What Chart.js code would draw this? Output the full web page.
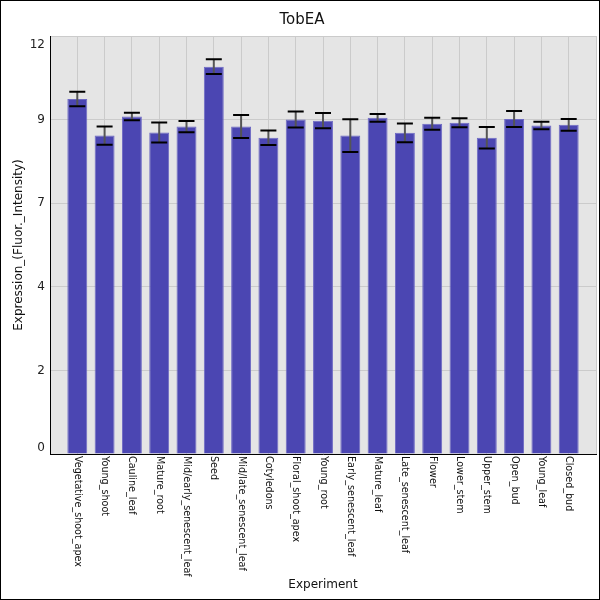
<!DOCTYPE html>
<html lang="en">

<head>
    <meta charset="UTF-8">
    <title>TobEA</title>
    <script src="https://cdn.jsdelivr.net/npm/chart.js"></script>
    <style>
        body { margin: 0; background: #fff; }
        #wrap { width: 600px; height: 600px; }
    </style>
</head>

<body>
    <div id="wrap">
        <canvas id="tobChart" width="600" height="600"></canvas>
    </div>

    <script>
        // data
        const experiments = [
            'Vegetative_shoot_apex', 'Young_shoot', 'Cauline_leaf', 'Mature_root',
            'Mid/early_senescent_leaf', 'Seed', 'Mid/late_senescent_leaf', 'Cotyledons',
            'Floral_shoot_apex', 'Young_root', 'Early_senescent_leaf', 'Mature_leaf',
            'Late_senescent_leaf', 'Flower', 'Lower_stem', 'Upper_stem', 'Open_bud',
            'Young_leaf', 'Closed_bud'
        ];
        const expression = [10.19, 9.14, 9.69, 9.23, 9.40, 11.12, 9.40, 9.08, 9.60, 9.57,
            9.14, 9.65, 9.22, 9.48, 9.51, 9.08, 9.62, 9.43, 9.45];
        const errors = [0.21, 0.26, 0.11, 0.29, 0.16, 0.21, 0.33, 0.21, 0.23, 0.22,
            0.47, 0.11, 0.27, 0.17, 0.13, 0.31, 0.23, 0.11, 0.17];
        const yTickValues = [0, 2.4, 4.8, 7.2, 9.6, 12];
        const yTickLabels = ['0', '2', '4', '7', '9', '12'];

        const textFont = 'DejaVu Sans';

        // grey plot background + outer frame
        const backgroundPlugin = {
            id: 'plotBackground',
            beforeDraw(chart) {
                const { ctx, chartArea } = chart;
                ctx.save();
                ctx.fillStyle = '#e5e5e5';
                ctx.fillRect(chartArea.left, chartArea.top, chartArea.right - chartArea.left, chartArea.bottom - chartArea.top);
                ctx.restore();
            },
            afterDraw(chart) {
                const ctx = chart.ctx;
                ctx.save();
                ctx.strokeStyle = '#000';
                ctx.lineWidth = 1;
                ctx.strokeRect(0.5, 0.5, chart.width - 1, chart.height - 1);
                ctx.restore();
            }
        };

        // error bars drawn on top of the bars
        const errorBarPlugin = {
            id: 'errorBars',
            afterDatasetsDraw(chart) {
                const { ctx, scales } = chart;
                const xs = scales.x, ys = scales.y;
                ctx.save();
                expression.forEach((v, i) => {
                    const x = xs.getPixelForValue(i + 1);
                    const yHi = ys.getPixelForValue(v + errors[i]);
                    const yLo = ys.getPixelForValue(v - errors[i]);
                    ctx.strokeStyle = '#555';
                    ctx.lineWidth = 2;
                    ctx.beginPath();
                    ctx.moveTo(x, yHi);
                    ctx.lineTo(x, yLo);
                    ctx.stroke();
                    ctx.strokeStyle = '#000';
                    ctx.beginPath();
                    ctx.moveTo(x - 8, yHi);
                    ctx.lineTo(x + 8, yHi);
                    ctx.moveTo(x - 8, yLo);
                    ctx.lineTo(x + 8, yLo);
                    ctx.stroke();
                });
                ctx.restore();
            }
        };

        // axis labels: category names rotated clockwise, y labels kept inside the plot height
        const axisLabelPlugin = {
            id: 'axisLabels',
            afterDraw(chart) {
                const { ctx, scales, chartArea } = chart;
                ctx.save();
                ctx.fillStyle = '#111';
                ctx.font = '9.6px "' + textFont + '"';
                ctx.textAlign = 'left';
                ctx.textBaseline = 'middle';
                experiments.forEach((name, i) => {
                    const x = scales.x.getPixelForValue(i + 1);
                    ctx.save();
                    ctx.translate(x, chartArea.bottom + 2);
                    ctx.rotate(Math.PI / 2);
                    ctx.fillText(name, 0, 0);
                    ctx.restore();
                });

                ctx.fillStyle = '#222';
                ctx.font = '12px "' + textFont + '"';
                ctx.textAlign = 'right';
                yTickValues.forEach((v, i) => {
                    let y = scales.y.getPixelForValue(v);
                    y = Math.min(Math.max(y, chartArea.top + 9), chartArea.bottom - 6);
                    ctx.fillText(yTickLabels[i], chartArea.left - 5, y);
                });
                ctx.restore();
            }
        };

        const ctx = document.getElementById('tobChart').getContext('2d');
        new Chart(ctx, {
            type: 'bar',
            data: {
                datasets: [{
                    label: 'TobEA',
                    data: expression.map((v, i) => ({ x: i + 1, y: v })),
                    backgroundColor: '#4b46b2',
                    borderColor: '#6e6ac4',
                    borderWidth: 1,
                    borderSkipped: 'bottom',
                    barPercentage: 0.73,
                    categoryPercentage: 1.0
                }]
            },
            options: {
                responsive: false,
                animation: false,
                layout: { padding: { left: 8, right: 4, top: 0, bottom: 4 } },
                plugins: {
                    legend: { display: false },
                    tooltip: { enabled: false },
                    title: {
                        display: true,
                        text: 'TobEA',
                        color: '#111',
                        font: { family: textFont, size: 15, weight: 'normal' },
                        padding: { top: 11, bottom: 7 }
                    }
                },
                scales: {
                    x: {
                        type: 'linear',
                        offset: false,
                        min: 0,
                        max: experiments.length + 1,
                        ticks: { display: false, stepSize: 1 },
                        grid: { color: '#cbcbcb', drawTicks: false, offset: false },
                        border: { display: true, color: '#000', width: 1 },
                        title: {
                            display: true,
                            text: 'Experiment',
                            color: '#111',
                            font: { family: textFont, size: 12 }
                        },
                        afterFit(scale) { scale.height = 142; }
                    },
                    y: {
                        min: 0,
                        max: 12,
                        afterBuildTicks(scale) {
                            scale.ticks = yTickValues.map(v => ({ value: v }));
                        },
                        ticks: { display: false },
                        grid: { color: '#cbcbcb', drawTicks: false },
                        border: { display: true, color: '#000', width: 1 },
                        title: {
                            display: true,
                            text: 'Expression_(Fluor._Intensity)',
                            color: '#111',
                            font: { family: textFont, size: 12 }
                        },
                        afterFit(scale) { scale.width = 42; }
                    }
                }
            },
            plugins: [backgroundPlugin, errorBarPlugin, axisLabelPlugin]
        });
    </script>
</body>

</html>
